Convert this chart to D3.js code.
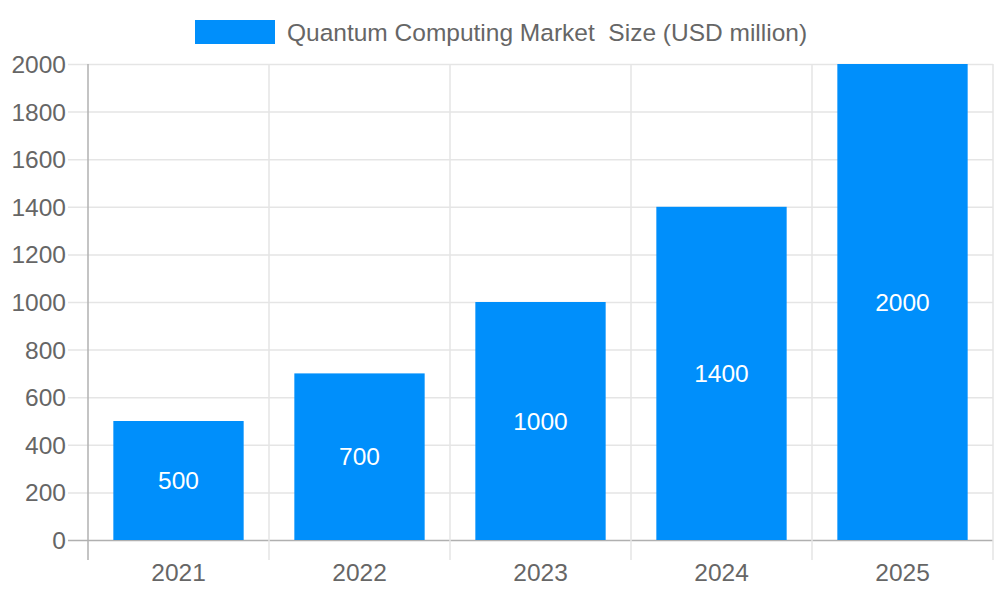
<!DOCTYPE html>
<html><head><meta charset="utf-8">
<script src="https://cdn.jsdelivr.net/npm/d3@7"></script>
<style>body{margin:0;background:#fff}svg{display:block}text{font-family:"Liberation Sans",Arial,sans-serif}</style>
</head><body>
<svg id="c" width="1000" height="600"></svg>
<script>
const categories = ["2021","2022","2023","2024","2025"];
const values = [500,700,1000,1400,2000];
const yTicks = [0,200,400,600,800,1000,1200,1400,1600,1800,2000];
const seriesName = "Quantum Computing Market  Size (USD million)";

const svg = d3.select("#c");
const L = 88, R = 993, T = 64, B = 540;
const FS = 24.5;
const x = d3.scaleBand().domain(categories).range([L, R]).paddingInner(0).paddingOuter(0);
const y = d3.scaleLinear().domain([0, 2000]).range([B, T]);
const grid = "#e5e5e5", txt = "#666", barC = "#008ffb";
const ff = '"Liberation Sans",Arial,sans-serif';

// horizontal grid + tick marks
svg.append("g").selectAll("line").data(yTicks).join("line")
  .attr("x1", L - 20).attr("x2", R).attr("y1", d => y(d)+0.5).attr("y2", d => y(d)+0.5)
  .attr("stroke", d => d === 0 ? "#b0b0b0" : grid).attr("stroke-width", 1.5);
// vertical grid lines
const vx = categories.map(c => x(c)).concat([R]);
svg.append("g").selectAll("line").data(vx).join("line")
  .attr("x1", d => d).attr("x2", d => d).attr("y1", T).attr("y2", B + 20)
  .attr("stroke", (d,i) => i === 0 ? "#b0b0b0" : grid).attr("stroke-width", 1.5);

// y labels
const yAxis = d3.axisLeft(y).tickValues(yTicks).tickFormat(d3.format("d")).tickSize(0).tickPadding(0);
const ya = svg.append("g").attr("transform", `translate(${L - 22},0)`).call(yAxis);
ya.select(".domain").remove();
ya.selectAll("text").attr("font-size", FS).attr("fill", txt).attr("font-family", ff).attr("dy", "0.35em");

// x labels
const xAxis = d3.axisBottom(x).tickSize(0).tickPadding(0);
const xa = svg.append("g").attr("transform", `translate(0,${B + 22})`).call(xAxis);
xa.select(".domain").remove();
xa.selectAll("text").attr("font-size", FS).attr("fill", txt).attr("font-family", ff).attr("dy", "0.78em");

// bars
const bw = x.bandwidth() * 0.72;
svg.append("g").selectAll("rect").data(values).join("rect")
  .attr("x", (d,i) => x(categories[i]) + (x.bandwidth() - bw)/2)
  .attr("width", bw)
  .attr("y", d => y(d)).attr("height", d => y(0) - y(d))
  .attr("fill", barC);

// value labels
svg.append("g").selectAll("text").data(values).join("text")
  .attr("x", (d,i) => x(categories[i]) + x.bandwidth()/2)
  .attr("y", d => (y(d) + y(0))/2)
  .attr("text-anchor", "middle").attr("dy", "0.35em")
  .attr("font-size", FS).attr("fill", "#fff").text(d => d);

// legend
const lg = svg.append("g");
lg.append("rect").attr("x", 195).attr("y", 20).attr("width", 80).attr("height", 24).attr("fill", barC);
lg.append("text").attr("x", 287).attr("y", 32).attr("dy", "0.35em")
  .attr("font-size", FS).attr("fill", txt).style("white-space", "pre").text(seriesName);
</script>
</body></html>
